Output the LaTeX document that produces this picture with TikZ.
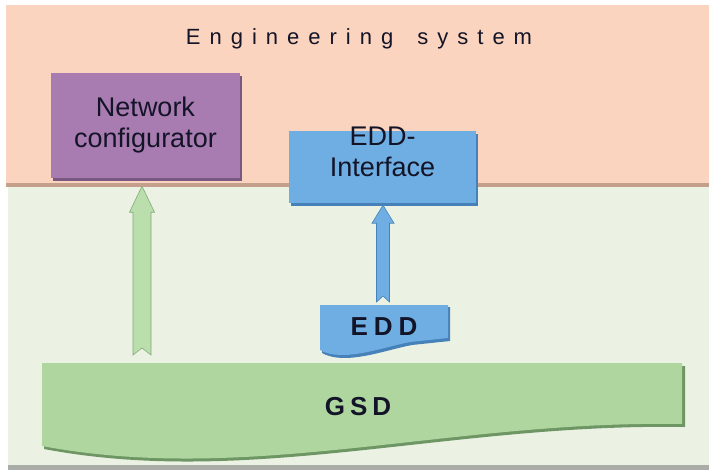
\documentclass[tikz,border=0pt]{standalone}
\usepackage{fontspec}
\setmainfont{Liberation Sans}
\usetikzlibrary{calc}
\definecolor{peach}{RGB}{250,212,190}
\definecolor{peachline}{RGB}{196,160,140}
\definecolor{greenbg}{RGB}{235,242,228}
\definecolor{graybar}{RGB}{170,172,168}
\definecolor{purplebox}{RGB}{168,124,176}
\definecolor{purpleshadow}{RGB}{120,88,128}
\definecolor{bluebox}{RGB}{110,174,226}
\definecolor{blueshadow}{RGB}{70,130,185}
\definecolor{gsdgreen}{RGB}{176,214,160}
\definecolor{gsdshadow}{RGB}{110,150,100}
\definecolor{arrgreen}{RGB}{186,222,172}
\definecolor{arrgreenedge}{RGB}{130,170,120}
\definecolor{txtdark}{RGB}{20,20,40}
\newcommand{\tg}{\kern 9pt}
\newcommand{\bg}{\kern 6pt}
\tikzset{
  boxtxt/.style={font=\fontsize{27}{31}\selectfont, text=txtdark, align=center, inner sep=0pt},
  bigbold/.style={font=\bfseries\fontsize{26}{30}\selectfont, text=txtdark, inner sep=0pt, anchor=base},
  plainbox/.style={inner sep=0pt, draw=none},
}
% #1 tail, #2 tip, #3 shaft half width, #4 head half width, #5 head length, #6 notch, #7 fill style
\newcommand{\fatarrow}[7]{%
  \filldraw[#7] (#2) -- ($(#2)+(#4,#5)$) -- ($(#2)+(#3,#5)$) -- ($(#1)+(#3,0)$)
    -- ($(#1)+(0,-#6)$) -- ($(#1)+(-#3,0)$) -- ($(#2)+(-#3,#5)$) -- ($(#2)+(-#4,#5)$) -- cycle;}
\begin{document}
\begin{tikzpicture}[x=1pt,y=-1pt]
\useasboundingbox (0,0) rectangle (709,471);
\fill[white] (0,0) rectangle (709,471);
% backgrounds
\fill[peach] (6,5) rectangle (709,184);
\fill[greenbg] (8,187) rectangle (709,465);
\fill[peachline] (6,183) rectangle (709,187);
\fill[graybar] (8,465) rectangle (709,470);
% title
\node[inner sep=0pt, anchor=base, text=txtdark, font=\fontsize{22}{26}\selectfont] (title) at (359,44)
  {E\tg n\tg g\tg i\tg n\tg e\tg e\tg r\tg i\tg n\tg g\tg{} \tg s\tg y\tg s\tg t\tg e\tg m};
% network configurator
\fill[purpleshadow] (53,76) rectangle (242,181);
\node[plainbox, fill=purplebox, minimum width=189pt, minimum height=105pt] (nc) at (145.5,125.5) {};
\node[boxtxt] (nctxt) at (nc.center) {Network\\configurator};
% EDD-Interface
\fill[blueshadow] (291,134) rectangle (478,206);
\node[plainbox, fill=bluebox, minimum width=187pt, minimum height=72pt] (edi) at (382.5,167) {};
\node[boxtxt] (editxt) at ($(edi.center)+(0,-15)$) {EDD-\\Interface};
% GSD
\fill[gsdshadow] (44,366) -- (685,366) -- (685,427) .. controls (450,423) and (250,488) .. (44,449) -- cycle;
\fill[gsdgreen] (42,363) -- (682,363) -- (682,424) .. controls (450,420) and (250,485) .. (42,446) -- cycle;
\node[bigbold] (gsd) at (358,415) {G\kern5pt S\kern5pt D};
% EDD document
\fill[blueshadow] (322,307) -- (450,307) -- (450,341) -- (412,345) .. controls (385,350) and (345,366) .. (322,353) -- cycle;
\fill[bluebox] (320,305) -- (448,305) -- (448,338) -- (410,342) .. controls (383,347) and (343,363) .. (320,350) -- cycle;
\node[bigbold] (edd) at (384,335) {E\bg D\bg D};
% arrows
\coordinate (gtail) at (142,355);
\coordinate (gtip) at ($(nc.south -| gtail)+(0,8)$);
\fatarrow{gtail}{gtip}{9}{12.5}{26}{7}{fill=arrgreen, draw=arrgreenedge, line width=0.6pt}
\coordinate (btail) at (383,302);
\coordinate (btip) at ($(edi.south -| btail)+(0,2)$);
\fatarrow{btail}{btip}{6.5}{11}{18}{6}{fill=bluebox, draw=blueshadow, line width=0.6pt}
\end{tikzpicture}
\end{document}
